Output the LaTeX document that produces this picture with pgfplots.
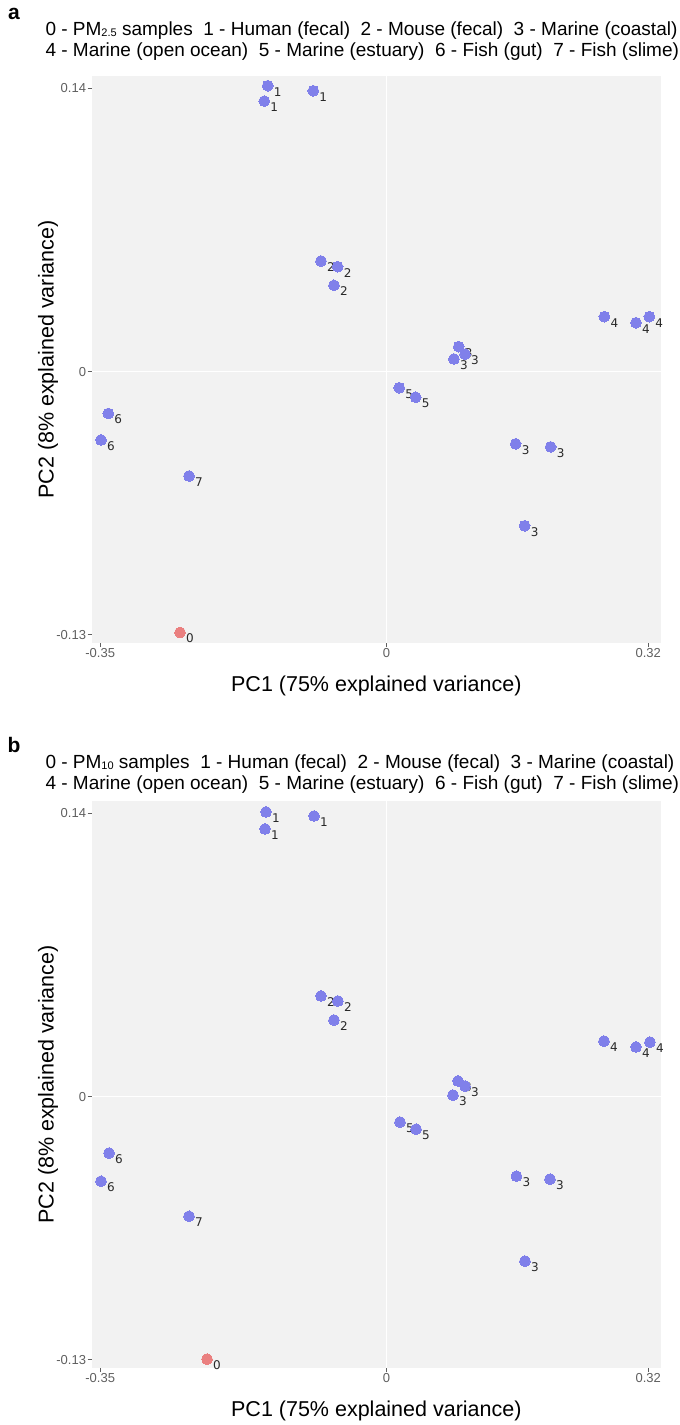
\documentclass[border=0pt]{standalone}
\usepackage{fontspec}
\setmainfont{Liberation Sans}
\newfontfamily\ptlabelfont{DejaVu Sans}
\usepackage{pgfplots}
\usepackage{pgfplotstable}
\pgfplotsset{compat=1.18}

\definecolor{panelgrey}{RGB}{242,242,242}
\definecolor{sampleblue}{RGB}{128,128,234}
\definecolor{pmred}{RGB}{234,128,128}
\definecolor{tickgrey}{RGB}{95,95,95}
\definecolor{labeltext}{RGB}{40,40,40}

% PCA scores, panel a (PM2.5)
\pgfplotstableread{
x y g
-0.1452 0.1413 1
-0.1494 0.1337 1
-0.0895 0.1388 1
-0.0801 0.0547 2
-0.0597 0.0519 2
-0.0642 0.0427 2
0.0883 0.0124 3
0.0960 0.0087 3
0.0825 0.0063 3
0.1579 -0.0356 3
0.2007 -0.0371 3
0.1689 -0.0761 3
0.2663 0.0272 4
0.3050 0.0242 4
0.3213 0.0272 4
0.0156 -0.0079 5
0.0357 -0.0126 5
-0.3401 -0.0206 6
-0.3490 -0.0337 6
-0.2414 -0.0515 7
}\refA
\pgfplotstableread{
x y g
-0.2524 -0.1288 0
}\pmA

% PCA scores, panel b (PM10)
\pgfplotstableread{
x y g
-0.1473 0.1407 1
-0.1485 0.1323 1
-0.0886 0.1387 1
-0.0801 0.0498 2
-0.0594 0.0473 2
-0.0642 0.0379 2
0.0874 0.0078 3
0.0960 0.0053 3
0.0813 0.0008 3
0.1589 -0.0392 3
0.1999 -0.0407 3
0.1693 -0.0812 3
0.2659 0.0275 4
0.3050 0.0246 4
0.3221 0.0270 4
0.0165 -0.0125 5
0.0361 -0.0160 5
-0.3392 -0.0278 6
-0.3490 -0.0417 6
-0.2414 -0.0590 7
}\refB
\pgfplotstableread{
x y g
-0.2194 -0.1296 0
}\pmB

\pgfplotsset{
  pcapanel/.style={
    width=569.3pt, height=567pt, scale only axis,
    xmin=-0.3604, xmax=0.3356, ymin=-0.134, ymax=0.1461,
    axis background/.style={fill=panelgrey},
    axis line style={draw=none},
    xtick={-0.35,0,0.32}, xticklabels={-0.35,0,0.32},
    ytick={-0.13,0,0.14}, yticklabels={-0.13,0,0.14},
    tick pos=left,
    tick align=outside, major tick length=4pt,
    tick style={draw=tickgrey, line width=0.9pt},
    tick label style={font=\fontsize{13}{13}\selectfont, text=tickgrey},
    xticklabel style={inner sep=1pt},
    yticklabel style={inner sep=1.5pt},
    xlabel={PC1 (75\% explained variance)},
    ylabel={PC2 (8\% explained variance)},
    label style={font=\fontsize{21.5}{24}\selectfont},
    xlabel style={at={(axis description cs:0.5,-0.0758)}, anchor=center},
    ylabel style={at={(axis description cs:-0.0768,0.5)}, anchor=center},
    clip=false,
  },
  zeroline/.style={white, line width=1.3pt, forget plot},
  grp/.style={only marks, mark=*, mark size=5.4pt,
    color=#1, mark options={draw=#1, fill=#1, line width=0pt},
    nodes near coords, point meta=explicit symbolic,
    nodes near coords style={font=\ptlabelfont\fontsize{12}{12}\selectfont,
      text=labeltext, anchor=center, xshift=10pt, yshift=-6pt, inner sep=0pt}},
}

\newcommand{\legendlineone}[1]{%
  \fontsize{19}{22}\selectfont
  0 - PM\raisebox{-1pt}{\fontsize{11}{11}\selectfont #1} samples\ \ 1 - Human (fecal)\ \ 2 - Mouse (fecal)\ \ 3 - Marine (coastal)}
\newcommand{\legendlinetwo}{%
  \fontsize{19}{22}\selectfont
  4 - Marine (open ocean)\ \ 5 - Marine (estuary)\ \ 6 - Fish (gut)\ \ 7 - Fish (slime)}

\begin{document}
\begin{tikzpicture}
\useasboundingbox (0pt,0pt) rectangle (680pt,-1425pt);

% ---------------- panel a ----------------
\node[anchor=center, font=\bfseries\fontsize{21}{21}\selectfont] at (14pt,-14pt) {a};
\node[anchor=base west] at (42pt,-35pt) {\legendlineone{2.5}};
\node[anchor=base west] at (42pt,-56pt) {\legendlinetwo};
\begin{axis}[pcapanel, at={(91.7pt,-76pt)}, anchor=north west]
  \addplot[zeroline] coordinates {(0,-0.134) (0,0.1461)};
  \addplot[zeroline] coordinates {(-0.3604,0) (0.3356,0)};
  \addplot[grp=pmred] table[x=x, y=y, meta=g] {\pmA};
  \addplot[grp=sampleblue] table[x=x, y=y, meta=g] {\refA};
\end{axis}

% ---------------- panel b ----------------
\node[anchor=center, font=\bfseries\fontsize{21}{21}\selectfont] at (14pt,-745pt) {b};
\node[anchor=base west] at (42pt,-768pt) {\legendlineone{10}};
\node[anchor=base west] at (42pt,-789pt) {\legendlinetwo};
\begin{axis}[pcapanel, at={(91.7pt,-801pt)}, anchor=north west]
  \addplot[zeroline] coordinates {(0,-0.134) (0,0.1461)};
  \addplot[zeroline] coordinates {(-0.3604,0) (0.3356,0)};
  \addplot[grp=pmred] table[x=x, y=y, meta=g] {\pmB};
  \addplot[grp=sampleblue] table[x=x, y=y, meta=g] {\refB};
\end{axis}
\end{tikzpicture}
\end{document}
